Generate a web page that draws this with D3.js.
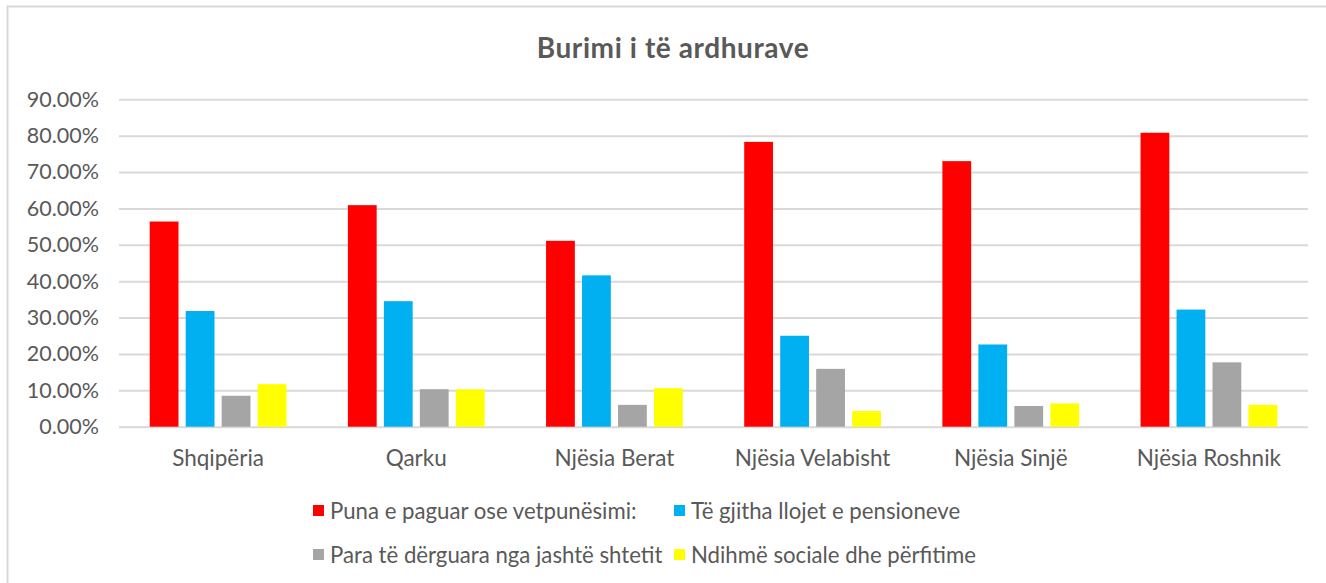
<!DOCTYPE html>
<html>
<head>
<meta charset="utf-8">
<script src="https://cdn.jsdelivr.net/npm/d3@7/dist/d3.min.js"></script>
<style>
  html, body { margin: 0; padding: 0; background: #fff; }
  svg { display: block; }
  text { font-family: Lato, "Open Sans", sans-serif; fill: #595959; }
</style>
</head>
<body>
<svg id="chart" width="1326" height="583"></svg>
<script>
// Burimi i të ardhurave – share of households by income source
const categories = ["Shqipëria", "Qarku", "Njësia Berat", "Njësia Velabisht", "Njësia Sinjë", "Njësia Roshnik"];
const seriesNames = [
  "Puna e paguar ose vetpunësimi:",
  "Të gjitha llojet e pensioneve",
  "Para të dërguara nga jashtë shtetit",
  "Ndihmë sociale dhe përfitime"
];
const seriesColors = ["#FF0000", "#00B0F0", "#A5A5A5", "#FFFF00"];
const paidWork    = [56.4, 60.9, 51.1, 78.3, 73.0, 80.8];
const pensions    = [31.8, 34.5, 41.6, 25.0, 22.6, 32.2];
const remittances = [8.5, 10.3, 6.0, 15.9, 5.7, 17.7];
const socialAid   = [11.7, 10.3, 10.6, 4.3, 6.4, 6.0];
const yTicks = [0, 10, 20, 30, 40, 50, 60, 70, 80, 90];
const chartTitle = "Burimi i të ardhurave";

const seriesValues = [paidWork, pensions, remittances, socialAid];

const svg = d3.select("#chart");
const W = 1326, H = 583;
const plot = { left: 119, right: 1308, top: 99.3, bottom: 426.7 };

// outer frame (left and top edges visible)
svg.append("rect")
  .attr("x", 7.5).attr("y", 6.5)
  .attr("width", W + 20).attr("height", H + 20)
  .attr("fill", "#fff")
  .attr("stroke", "#D9D9D9").attr("stroke-width", 2);

// title
svg.append("text")
  .attr("x", 673).attr("y", 58)
  .attr("text-anchor", "middle")
  .attr("font-size", 28).attr("font-weight", 700)
  .attr("letter-spacing", 0.6)
  .text(chartTitle);

const y = d3.scaleLinear().domain([0, 90]).range([plot.bottom, plot.top]);
const x0 = d3.scaleBand().domain(categories)
  .range([plot.left, plot.right])
  .paddingInner(0.31).paddingOuter(0.155);
const x1 = d3.scaleBand().domain(d3.range(seriesNames.length))
  .range([0, x0.bandwidth()])
  .paddingInner(0.2).paddingOuter(0);

// gridlines + y labels via axis
const yAxis = d3.axisLeft(y)
  .tickValues(yTicks)
  .tickSize(-(plot.right - plot.left))
  .tickPadding(20)
  .tickFormat(d => d.toFixed(2) + "%");

const gy = svg.append("g")
  .attr("transform", `translate(${plot.left},0)`)
  .call(yAxis);
gy.select(".domain").remove();
gy.selectAll(".tick line").attr("stroke", "#D9D9D9").attr("stroke-width", 2);
gy.selectAll(".tick text")
  .attr("font-size", 21.5)
  .attr("fill", "#595959")
  .style("font-family", "Lato, sans-serif");

// bars
const groups = svg.append("g").selectAll("g")
  .data(categories)
  .join("g")
  .attr("transform", d => `translate(${x0(d)},0)`);

groups.selectAll("rect")
  .data((c, ci) => seriesValues.map((vals, si) => ({ si, v: vals[ci] })))
  .join("rect")
  .attr("x", d => x1(d.si))
  .attr("width", x1.bandwidth())
  .attr("y", d => y(d.v))
  .attr("height", d => y(0) - y(d.v))
  .attr("fill", d => seriesColors[d.si]);

// category labels
const xAxis = d3.axisBottom(x0).tickSize(0).tickPadding(23);
const gx = svg.append("g")
  .attr("transform", `translate(0,${plot.bottom})`)
  .call(xAxis);
gx.select(".domain").remove();
gx.selectAll(".tick text")
  .attr("font-size", 22.5)
  .attr("fill", "#595959")
  .style("font-family", "Lato, sans-serif");

// legend: two columns, two rows
const legendCols = [313, 674];
const legendRows = [519, 563];
const legend = svg.append("g");
seriesNames.forEach((name, i) => {
  const lx = legendCols[i % 2];
  const ly = legendRows[Math.floor(i / 2)];
  legend.append("rect")
    .attr("x", lx).attr("y", ly - 14)
    .attr("width", 11).attr("height", 11)
    .attr("fill", seriesColors[i]);
  legend.append("text")
    .attr("x", lx + 17).attr("y", ly)
    .attr("font-size", 22.2)
    .text(name);
});
</script>
</body>
</html>
